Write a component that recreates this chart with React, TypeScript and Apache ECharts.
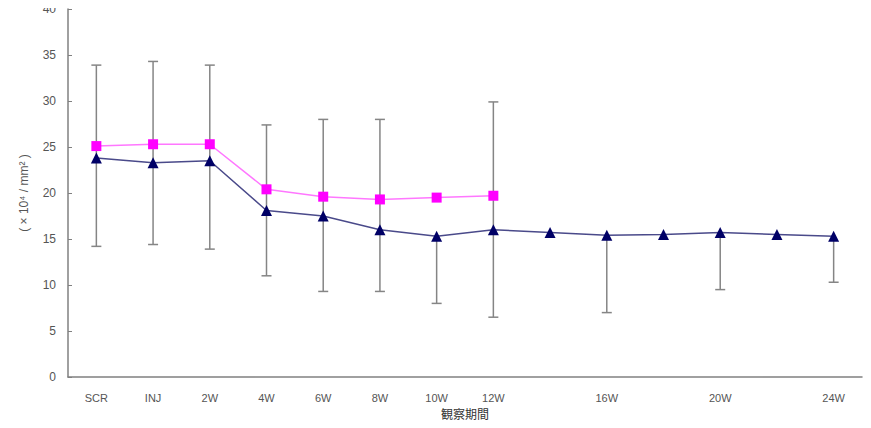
import React, { useEffect, useRef } from "react";
import * as echarts from "echarts";

const categories = ["SCR", "INJ", "2W", "4W", "6W", "8W", "10W", "12W", "14W", "16W", "18W", "20W", "22W", "24W"];
const hiddenLabels = ["14W", "18W", "22W"];
const pinkValues: (number | null)[] = [25.1, 25.3, 25.3, 20.4, 19.6, 19.3, 19.5, 19.7, null, null, null, null, null, null];
const blueValues: (number | null)[] = [23.8, 23.3, 23.5, 18.1, 17.5, 16.0, 15.3, 16.0, 15.7, 15.4, 15.5, 15.7, 15.5, 15.3];
const errHigh: (number | null)[] = [33.9, 34.3, 33.9, 27.4, 28.0, 28.0, null, 29.9, null, null, null, null, null, null];
const errLow: (number | null)[] = [14.2, 14.4, 13.9, 11.0, 9.3, 9.3, 8.0, 6.5, null, 7.0, null, 9.5, null, 10.3];

export default function App() {
  const ref = useRef<HTMLDivElement>(null);
  useEffect(() => {
    if (!ref.current) return;
    const chart = echarts.init(ref.current, undefined, { renderer: "svg" });
    const errData: any[] = [];
    categories.forEach((_, i) => {
      const hi = errHigh[i];
      const lo = errLow[i];
      if (hi == null && lo == null) return;
      const top = hi != null ? hi : (blueValues[i] as number);
      const bottom = lo != null ? lo : (pinkValues[i] as number);
      errData.push([i, bottom, top, lo != null ? 1 : 0, hi != null ? 1 : 0]);
    });
    chart.setOption({
      animation: false,
      backgroundColor: "#ffffff",
      grid: { left: 68, right: 9, top: 9, bottom: 51, outerBoundsMode: "none", containLabel: false },
      xAxis: {
        type: "category",
        data: categories,
        boundaryGap: true,
        name: "観察期間",
        nameLocation: "middle",
        nameGap: 30,
        nameMoveOverlap: false,
        nameTextStyle: { fontSize: 12, color: "#333", fontFamily: "Noto Sans CJK JP" },
        axisLine: { lineStyle: { color: "#808080", width: 1.5 } },
        axisTick: { inside: true, length: 4, interval: 0, lineStyle: { color: "#808080" } },
        axisLabel: {
          interval: (idx: number, val: string) => hiddenLabels.indexOf(val) < 0,
          fontSize: 11,
          color: "#555",
          margin: 15,
          fontFamily: "Liberation Sans",
        },
        splitLine: { show: false },
      },
      yAxis: {
        type: "value",
        min: 0,
        max: 40,
        interval: 5,
        name: "( × 10⁴ / mm² )",
        nameLocation: "middle",
        nameGap: 38,
        nameRotate: 90,
        nameMoveOverlap: false,
        nameTextStyle: { fontSize: 12, color: "#555", fontFamily: "Liberation Sans" },
        axisLine: { show: true, lineStyle: { color: "#808080", width: 1.5 } },
        axisTick: { show: true, inside: true, length: 4, lineStyle: { color: "#808080" } },
        axisLabel: { fontSize: 12, color: "#555", margin: 12, fontFamily: "Liberation Sans" },
        splitLine: { show: false },
      },
      series: [
        {
          type: "custom",
          z: 1,
          data: errData,
          renderItem: (params: any, api: any) => {
            const x = api.coord([api.value(0), 0])[0];
            const yb = api.coord([api.value(0), api.value(1)])[1];
            const yt = api.coord([api.value(0), api.value(2)])[1];
            const capW = 5;
            const style = { stroke: "#858585", lineWidth: 1.5 };
            const children: any[] = [
              { type: "line", shape: { x1: x, y1: yb, x2: x, y2: yt }, style },
            ];
            if (api.value(3)) children.push({ type: "line", shape: { x1: x - capW, y1: yb, x2: x + capW, y2: yb }, style });
            if (api.value(4)) children.push({ type: "line", shape: { x1: x - capW, y1: yt, x2: x + capW, y2: yt }, style });
            return { type: "group", children };
          },
        },
        {
          type: "line",
          z: 3,
          data: pinkValues,
          symbol: "rect",
          symbolSize: 10,
          itemStyle: { color: "#ff00ff" },
          lineStyle: { color: "#ff77ff", width: 1.5 },
          connectNulls: false,
        },
        {
          type: "line",
          z: 2,
          data: blueValues,
          symbol: "triangle",
          symbolSize: 11,
          itemStyle: { color: "#000066" },
          lineStyle: { color: "#4a4a8a", width: 1.5 },
        },
      ],
    });
    return () => chart.dispose();
  }, []);
  return <div ref={ref} style={{ width: 871, height: 428, margin: -8 }} />;
}
